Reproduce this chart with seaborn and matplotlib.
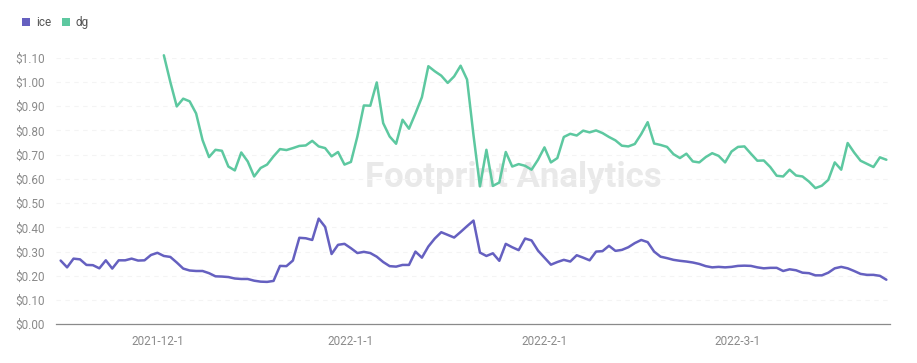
import matplotlib
matplotlib.use('Agg')
import matplotlib.pyplot as plt
import seaborn as sns
import pandas as pd
import numpy as np
from matplotlib.patches import Patch

# daily prices, index 0 = first day on the chart
ice_price = [
    0.263, 0.235, 0.271, 0.268, 0.245, 0.244, 0.231, 0.264, 0.230, 0.264,
    0.264, 0.271, 0.263, 0.264, 0.286, 0.295, 0.282, 0.278, 0.255, 0.230,
    0.222, 0.220, 0.220, 0.211, 0.198, 0.197, 0.195, 0.189, 0.187, 0.187,
    0.180, 0.176, 0.175, 0.179, 0.241, 0.240, 0.263, 0.357, 0.355, 0.348,
    0.436, 0.402, 0.290, 0.328, 0.332, 0.314, 0.294,
    0.299, 0.294, 0.279, 0.257, 0.240, 0.238, 0.245, 0.245, 0.300, 0.275,
    0.321, 0.354, 0.380, 0.369, 0.358, 0.381, 0.405, 0.428, 0.296, 0.282,
    0.293, 0.262, 0.332, 0.318, 0.306, 0.354, 0.346, 0.304, 0.275, 0.246,
    0.257, 0.266, 0.259, 0.285, 0.275, 0.264, 0.300, 0.302, 0.324, 0.303,
    0.307, 0.318, 0.335, 0.348,
    0.339, 0.300, 0.279, 0.273, 0.266, 0.262, 0.259, 0.255, 0.249, 0.240,
    0.235, 0.237, 0.235, 0.237, 0.241, 0.242, 0.241, 0.235, 0.231, 0.233,
    0.233, 0.220, 0.227, 0.223, 0.213, 0.211, 0.202, 0.202, 0.213, 0.231,
    0.237, 0.231, 0.220, 0.208, 0.204, 0.204, 0.200, 0.184,
]

dg_price = [np.nan] * 16 + [
    1.110, 1.000, 0.899, 0.931, 0.920, 0.870, 0.760, 0.690, 0.720, 0.716,
    0.651, 0.635, 0.709, 0.672, 0.610,
    0.645, 0.659, 0.693, 0.723, 0.719, 0.727, 0.736, 0.738, 0.757, 0.734,
    0.727, 0.693, 0.711, 0.659, 0.670, 0.775, 0.903, 0.902, 0.998,
    0.830, 0.775, 0.745, 0.844, 0.807, 0.870, 0.937,
    1.065, 1.044, 1.026, 0.996, 1.023, 1.067, 1.010, 0.780, 0.569, 0.720,
    0.571, 0.585, 0.711, 0.651, 0.661, 0.654, 0.638, 0.679, 0.730, 0.668,
    0.686, 0.773, 0.786, 0.779, 0.799, 0.792, 0.800, 0.789, 0.773, 0.759,
    0.737, 0.734, 0.744, 0.785, 0.834, 0.746, 0.740, 0.732, 0.702, 0.686,
    0.704, 0.672, 0.668, 0.690, 0.706, 0.695, 0.668, 0.713, 0.732, 0.734,
    0.704, 0.675, 0.676, 0.649, 0.613, 0.610, 0.638, 0.614, 0.610, 0.589,
    0.562, 0.572, 0.596, 0.668, 0.638, 0.748, 0.709, 0.675, 0.662, 0.649,
    0.689, 0.679,
]

tick_pos = [15, 45, 75, 105]
tick_labels = ["2021-12-1", "2022-1-1", "2022-2-1", "2022-3-1"]
y_ticks = [0.0, 0.1, 0.2, 0.3, 0.4, 0.5, 0.6, 0.7, 0.8, 0.9, 1.0, 1.1]

colors = {"ice": "#6560C0", "dg": "#5DC8A0"}

n = len(ice_price)
df = pd.DataFrame({
    "day": list(range(n)) * 2,
    "price": ice_price + dg_price,
    "token": ["ice"] * n + ["dg"] * n,
})

sns.set_theme(style="white")
plt.rcParams['font.family'] = ['Roboto', 'DejaVu Sans']

fig = plt.figure(figsize=(9.17, 3.63), dpi=100)
ax = fig.add_axes([0.061, 0.1066, 0.9096, 0.7344])

sns.lineplot(data=df, x="day", y="price", hue="token", palette=colors,
             linewidth=1.8, legend=False, ax=ax)
for line in ax.get_lines():
    line.set_clip_on(False)

ax.set_xlim(-0.73, n - 1 + 0.57)
ax.set_ylim(0, 1.1)
ax.set_yticks(y_ticks)
ax.set_yticklabels([f"${v:.2f}" for v in y_ticks])
ax.set_xticks(tick_pos)
ax.set_xticklabels(tick_labels)
ax.set_xticks([-0.73, n - 1 + 0.57], minor=True)
ax.tick_params(axis='x', which='major', length=0, pad=8, labelsize=8.5, colors='#8a8a8a')
ax.tick_params(axis='x', which='minor', length=5, width=0.8, color='#8a8a8a')
ax.tick_params(axis='y', length=0, pad=8, labelsize=8.5, colors='#8a8a8a')
ax.set_xlabel("")
ax.set_ylabel("")

ax.grid(axis='y', color='#f4f4f4', linestyle=(0, (4, 4)), linewidth=0.8)
for side in ["top", "right", "left"]:
    ax.spines[side].set_visible(False)
ax.spines["bottom"].set_color('#8a8a8a')
ax.spines["bottom"].set_linewidth(0.9)

# watermark
ax.text(0.548, 0.549, "Footprint Analytics", transform=ax.transAxes,
        fontsize=25, fontweight='bold', color='#e9e9e9', ha='center', va='center', zorder=0)

handles = [Patch(facecolor=colors[k], edgecolor='none') for k in ["ice", "dg"]]
fig.legend(handles, ["ice", "dg"], loc='upper left', bbox_to_anchor=(0.012, 0.985),
           ncol=2, frameon=False, handlelength=0.7, handleheight=0.7,
           handletextpad=0.5, columnspacing=0.9, fontsize=8.5, labelcolor='#555555')

fig.savefig("out.png", dpi=100)
